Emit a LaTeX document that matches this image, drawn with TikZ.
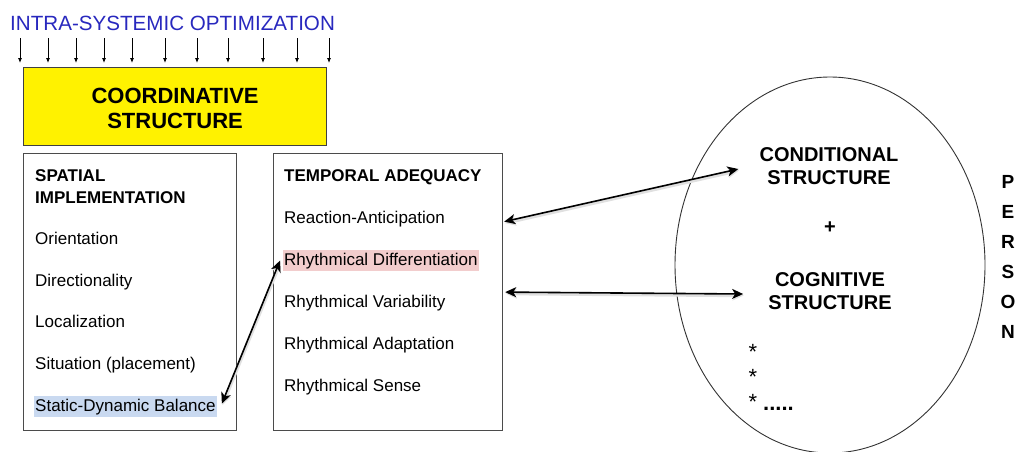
\documentclass[tikz,border=0pt]{standalone}
\usepackage{fontspec}
\setmainfont{Liberation Sans}
\usetikzlibrary{arrows.meta,positioning,shapes.geometric}
\definecolor{optblue}{RGB}{40,40,190}
\definecolor{hlblue}{RGB}{201,217,240}
\definecolor{hlpink}{RGB}{242,205,205}
\definecolor{boxgray}{RGB}{75,75,75}

\begin{document}
\begin{tikzpicture}[x=1pt,y=-1pt,every node/.style={inner sep=0pt},
  item/.style={anchor=base west,font=\fontsize{17}{20}\selectfont},
  head/.style={anchor=base west,font=\bfseries\fontsize{17}{20}\selectfont},
  big/.style={align=center,font=\bfseries\fontsize{20}{23}\selectfont},
  frame/.style={draw=boxgray,line width=1.2pt,anchor=north west,minimum height=277pt},
  dbl/.style={{Stealth[length=11pt,width=10pt,inset=3pt]}-{Stealth[length=11pt,width=10pt,inset=3pt]},line width=1.6pt,
    preaction={draw=black!12,line width=3.4pt,transform canvas={shift={(0.5pt,-1.5pt)}}}}]
\useasboundingbox (0,0) rectangle (1024,451);

\node[anchor=base west,text=optblue,font=\fontsize{20.6}{24}\selectfont] (opt) at (10,30) {INTRA-SYSTEMIC OPTIMIZATION};
\node[draw=black!75,line width=1.2pt,fill=yellow,anchor=north west,minimum width=303pt,minimum height=78pt] (cbox) at (23,67) {};
\node[align=center,font=\bfseries\fontsize{22}{25}\selectfont] (coord) at ([yshift=-2pt]cbox.center) {COORDINATIVE\\STRUCTURE};
\foreach \x in {20,48,76,104,132,165,197,228,263,297,329}
  \draw[-{Latex[length=5pt,width=4pt]},line width=0.8pt] ([yshift=-8pt]opt.south -| \x,0) -- ([yshift=4pt]cbox.north -| \x,0);

\node[frame,minimum width=213pt] (sbox) at (23,153) {};
\node[head] (spat) at (35,181) {SPATIAL};
\node[head] (impl) at (35,203) {IMPLEMENTATION};
\node[item] (orient) at (35,244) {Orientation};
\node[item] (direct) at (35,286) {Directionality};
\node[item] (local) at (35,327.5) {Localization};
\node[item] (situ) at (35,369.5) {Situation (placement)};
\node[item,fill=hlblue,inner xsep=1pt,inner ysep=2.5pt] (sdb) at (34,411) {Static-Dynamic Balance};

\node[frame,minimum width=229pt] (tbox) at (273,153) {};
\node[head] (temp) at (284,181) {TEMPORAL ADEQUACY};
\node[item] (react) at (284,223) {Reaction-Anticipation};
\node[item,fill=hlpink,inner xsep=1pt,inner ysep=2.5pt] (rdiff) at (283,265) {Rhythmical Differentiation};
\node[item] (rvar) at (284,307) {Rhythmical Variability};
\node[item] (radapt) at (284,349) {Rhythmical Adaptation};
\node[item] (rsense) at (284,391) {Rhythmical Sense};

\node[draw=black!80,line width=0.9pt,ellipse,minimum width=310pt,minimum height=376pt] (person) at (830,265) {};
\node[big] (cond) at (829,166) {CONDITIONAL\\STRUCTURE};
\node[big] (plus) at (830,228) {+};
\node[big] (cog) at (830,291) {COGNITIVE\\STRUCTURE};
\foreach \y/\n in {359/st1,384/st2,409/st3}
  \node[anchor=base,font=\fontsize{22}{24}\selectfont] (\n) at (753,\y) {*};
\node[anchor=base west,font=\bfseries\fontsize{22}{26}\selectfont] (dots) at (763,410) {.....};
\node[align=center,font=\bfseries\fontsize{19}{30}\selectfont] (pname) at (1008,257) {P\\E\\R\\S\\O\\N};

\draw[dbl] ([xshift=5pt,yshift=3pt]sdb.east) -- ([xshift=-3pt]rdiff.west);
\draw[dbl] ([xshift=1pt,yshift=-3pt]tbox.east |- react.center) -- ([xshift=-21pt,yshift=-3pt]cond.west);
\draw[dbl] ([xshift=2pt]tbox.east) -- ([xshift=-25pt,yshift=-3pt]cog.west);
\end{tikzpicture}
\end{document}
